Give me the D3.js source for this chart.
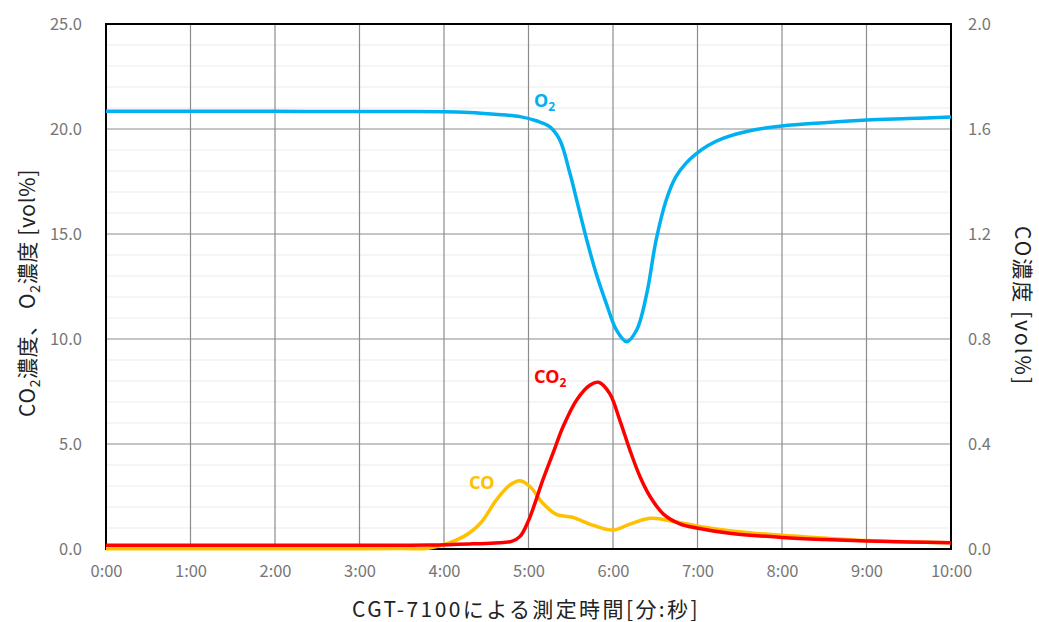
<!DOCTYPE html>
<html>
<head>
<meta charset="utf-8">
<script src="https://cdn.jsdelivr.net/npm/d3@7"></script>
<style>
  body { margin: 0; background: #fff; }
  text { font-family: "Noto Sans CJK JP", "Noto Sans", sans-serif; }
</style>
</head>
<body>
<svg width="1039" height="622"></svg>
<script>
var width = 1039,
    height = 622;

// data (time in minutes)
var xTicks = [0, 1, 2, 3, 4, 5, 6, 7, 8, 9, 10];
var xTickLabels = ["0:00", "1:00", "2:00", "3:00", "4:00", "5:00", "6:00", "7:00", "8:00", "9:00", "10:00"];
var leftTicks = [0, 5, 10, 15, 20, 25];
var rightTicks = [0, 0.4, 0.8, 1.2, 1.6, 2.0];

// O2 [vol%] (left axis)
var o2Time = [0, 1, 2, 3, 3.5, 4, 4.3, 4.6, 4.9, 5.1, 5.25, 5.37, 5.49, 5.59, 5.69, 5.80, 5.92, 6.04, 6.16, 6.28, 6.40, 6.51, 6.63, 6.74, 6.86, 6.98, 7.12, 7.3, 7.62, 8, 8.5, 9, 9.5, 10];
var o2Value = [20.85, 20.85, 20.84, 20.83, 20.83, 20.82, 20.78, 20.70, 20.59, 20.38, 20.11, 19.48, 17.89, 16.3, 14.71, 13.13, 11.7, 10.43, 9.87, 10.43, 12.17, 14.71, 16.62, 17.7, 18.35, 18.8, 19.2, 19.55, 19.92, 20.14, 20.3, 20.43, 20.5, 20.57];

// CO2 [vol%] (left axis)
var co2Time = [0, 1, 2, 3, 3.83, 4.3, 4.6, 4.8, 4.9, 5.0, 5.17, 5.29, 5.41, 5.57, 5.73, 5.83, 5.96, 6.08, 6.20, 6.32, 6.44, 6.60, 6.79, 6.99, 7.38, 8, 8.5, 9, 9.5, 10];
var co2Value = [0.18, 0.18, 0.18, 0.18, 0.19, 0.24, 0.29, 0.36, 0.6, 1.35, 3.29, 4.56, 5.83, 7.1, 7.81, 7.94, 7.41, 6.14, 4.71, 3.44, 2.49, 1.65, 1.2, 1.0, 0.75, 0.55, 0.45, 0.38, 0.33, 0.3];

// CO [vol%] (right axis)
var coTime = [0, 1, 2, 3, 3.5, 3.83, 4.23, 4.43, 4.62, 4.78, 4.90, 5.02, 5.17, 5.33, 5.52, 5.76, 6.00, 6.20, 6.44, 6.67, 6.99, 7.38, 8, 8.5, 9, 9.5, 10];
var coValue = [0.001, 0.001, 0.001, 0.001, 0.002, 0.004, 0.047, 0.098, 0.187, 0.244, 0.26, 0.237, 0.174, 0.132, 0.121, 0.091, 0.072, 0.095, 0.117, 0.108, 0.088, 0.070, 0.052, 0.042, 0.032, 0.027, 0.024];

var margin = {top: 24, right: 88, bottom: 73, left: 106};

var svg = d3.select("svg");

var x = d3.scaleLinear().domain([0, 10]).range([margin.left, width - margin.right]);
var yL = d3.scaleLinear().domain([0, 25]).range([height - margin.bottom, margin.top]);
var yR = d3.scaleLinear().domain([0, 2]).range([height - margin.bottom, margin.top]);

// minor grid
svg.append("g")
    .selectAll("line")
    .data(d3.range(0, 26).filter(function (d) { return d % 5 != 0; }))
    .enter().append("line")
    .attr("x1", x(0)).attr("x2", x(10))
    .attr("y1", function (d) { return yL(d); })
    .attr("y2", function (d) { return yL(d); })
    .style("stroke", "#ececec")
    .style("stroke-width", 1.2);

// major grid
svg.append("g")
    .selectAll("line")
    .data(leftTicks)
    .enter().append("line")
    .attr("x1", x(0)).attr("x2", x(10))
    .attr("y1", function (d) { return yL(d); })
    .attr("y2", function (d) { return yL(d); })
    .style("stroke", "#8c8c8c")
    .style("stroke-width", 1.2);

svg.append("g")
    .selectAll("line")
    .data(xTicks)
    .enter().append("line")
    .attr("x1", function (d) { return x(d); })
    .attr("x2", function (d) { return x(d); })
    .attr("y1", yL(0)).attr("y2", yL(25))
    .style("stroke", "#8c8c8c")
    .style("stroke-width", 1.2);

// border
svg.append("rect")
    .attr("x", x(0)).attr("y", yL(25))
    .attr("width", x(10) - x(0)).attr("height", yL(0) - yL(25))
    .style("fill", "none")
    .style("stroke", "#000")
    .style("stroke-width", 2);

// axes
var axisLeft = svg.append("g")
    .attr("transform", "translate(" + x(0) + ",0)")
    .call(d3.axisLeft(yL).tickValues(leftTicks).tickFormat(d3.format(".1f")).tickSize(0).tickPadding(24));
var axisRight = svg.append("g")
    .attr("transform", "translate(" + x(10) + ",0)")
    .call(d3.axisRight(yR).tickValues(rightTicks).tickFormat(d3.format(".1f")).tickSize(0).tickPadding(17));
var axisBottom = svg.append("g")
    .attr("transform", "translate(0," + yL(0) + ")")
    .call(d3.axisBottom(x).tickValues(xTicks).tickFormat(function (d, i) { return xTickLabels[i]; }).tickSize(0).tickPadding(16));

[axisLeft, axisRight, axisBottom].forEach(function (a) {
    a.select(".domain").remove();
    a.selectAll("text")
        .style("font-family", "'Noto Sans CJK JP', sans-serif")
        .style("font-size", "16.5px")
        .style("fill", "#767676");
});

// lines
function drawLine(ts, vs, scale, color) {
    var pts = ts.map(function (t, i) { return [t, vs[i]]; });
    svg.append("path")
        .datum(pts)
        .attr("d", d3.line()
            .x(function (d) { return x(d[0]); })
            .y(function (d) { return scale(d[1]); })
            .curve(d3.curveCatmullRom.alpha(0.5)))
        .style("fill", "none")
        .style("stroke", color)
        .style("stroke-width", 3.5)
        .style("stroke-linejoin", "round");
}
drawLine(o2Time, o2Value, yL, "#00b0f0");
drawLine(coTime, coValue, yR, "#ffc000");
drawLine(co2Time, co2Value, yL, "#ff0000");

// series labels
function seriesLabel(px, py, main, sub, color) {
    var t = svg.append("text")
        .attr("x", px).attr("y", py)
        .style("font-family", "'Noto Sans', 'DejaVu Sans', sans-serif")
        .style("font-weight", "bold")
        .style("font-size", "18px")
        .style("fill", color)
        .text(main);
    if (sub) {
        t.append("tspan").attr("dy", 4).style("font-size", "12px").text(sub);
    }
}
seriesLabel(534, 107, "O", "2", "#00b0f0");
seriesLabel(534, 383, "CO", "2", "#ff0000");
seriesLabel(469, 489, "CO", null, "#ffc000");

// axis titles
var leftTitle = svg.append("text")
    .attr("transform", "translate(35,293) rotate(-90)")
    .attr("text-anchor", "middle")
    .style("font-size", "21px")
    .style("letter-spacing", "0.6px")
    .style("fill", "#222");
leftTitle.append("tspan").text("CO");
leftTitle.append("tspan").attr("dy", 5).style("font-size", "14px").text("2");
leftTitle.append("tspan").attr("dy", -5).text("濃度、 O");
leftTitle.append("tspan").attr("dy", 5).style("font-size", "14px").text("2");
leftTitle.append("tspan").attr("dy", -5).text("濃度 [vol%]");

svg.append("text")
    .attr("transform", "translate(1015,306) rotate(90)")
    .attr("text-anchor", "middle")
    .style("font-size", "21px")
    .style("letter-spacing", "2px")
    .style("fill", "#222")
    .text("CO濃度 [vol%]");

svg.append("text")
    .attr("x", 526).attr("y", 617)
    .attr("text-anchor", "middle")
    .style("font-size", "21px")
    .style("letter-spacing", "2.4px")
    .style("fill", "#222")
    .text("CGT-7100による測定時間[分:秒]");
</script>
</body>
</html>
